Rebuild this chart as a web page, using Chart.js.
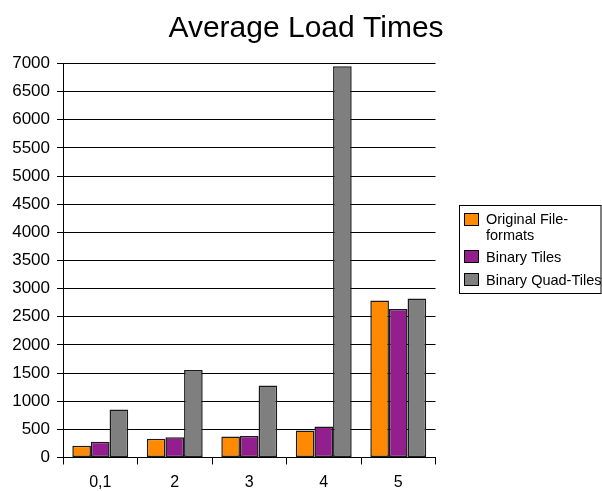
<!DOCTYPE html>
<html>
<head>
<meta charset="utf-8">
<script src="https://cdn.jsdelivr.net/npm/chart.js@4.4.1/dist/chart.umd.min.js"></script>
<style>
  html, body { margin: 0; padding: 0; background: #fff; }
  #wrap { position: relative; width: 602px; height: 491px; }
</style>
</head>
<body>
<div id="wrap"><canvas id="c" width="602" height="491"></canvas></div>
<script>
// Average load time per zoom level group
const categories = ['0,1', '2', '3', '4', '5'];
const originalFileFormats = [207, 332, 373, 479, 2790];
const binaryTiles = [279, 361, 380, 550, 2640];
const binaryQuadTiles = [852, 1555, 1277, 6950, 2825];
const seriesNames = ['Original File-formats', 'Binary Tiles', 'Binary Quad-Tiles'];
const legendLines = [['Original File-', 'formats'], ['Binary Tiles'], ['Binary Quad-Tiles']];
const yTicks = [0, 500, 1000, 1500, 2000, 2500, 3000, 3500, 4000, 4500, 5000, 5500, 6000, 6500, 7000];

const FONT = '"Liberation Sans", Arial, sans-serif';
const colors = ['#FF8A00', '#931F8F', '#7F7F7F'];

// Title and boxed legend drawn on the canvas
const decorations = {
  id: 'decorations',
  afterDraw(chart) {
    const ctx = chart.ctx;
    ctx.save();
    ctx.fillStyle = '#000';
    ctx.font = '30px ' + FONT;
    ctx.textAlign = 'center';
    ctx.textBaseline = 'alphabetic';
    ctx.fillText('Average Load Times', 306, 37);

    // legend frame
    ctx.strokeStyle = '#000';
    ctx.lineWidth = 1;
    ctx.strokeRect(459.5, 205.5, 141.5, 88);
    const rows = [
      { swatchTop: 213.5, baselines: [223.5, 239.5] },
      { swatchTop: 250.5, baselines: [261.5] },
      { swatchTop: 273.5, baselines: [284.5] }
    ];
    ctx.font = '14.5px ' + FONT;
    ctx.textAlign = 'left';
    chart.data.datasets.forEach((ds, i) => {
      const r = rows[i];
      ctx.fillStyle = ds.backgroundColor;
      ctx.fillRect(464.5, r.swatchTop, 14, 12);
      ctx.strokeRect(464.5, r.swatchTop, 14, 12);
      ctx.fillStyle = '#000';
      legendLines[i].forEach((t, k) => ctx.fillText(t, 486, r.baselines[k]));
    });
    ctx.restore();
  }
};

new Chart(document.getElementById('c'), {
  type: 'bar',
  data: {
    labels: categories,
    datasets: [
      { label: seriesNames[0], data: originalFileFormats, backgroundColor: colors[0] },
      { label: seriesNames[1], data: binaryTiles, backgroundColor: colors[1] },
      { label: seriesNames[2], data: binaryQuadTiles, backgroundColor: colors[2] }
    ].map(d => Object.assign(d, {
      borderColor: '#1a1a1a',
      borderWidth: 1.5,
      borderSkipped: false,
      categoryPercentage: 0.75,
      barPercentage: 1.0
    }))
  },
  options: {
    responsive: false,
    animation: false,
    devicePixelRatio: 1,
    layout: { padding: { top: 63.5, right: 166.5, left: 0, bottom: 0 } },
    plugins: {
      legend: { display: false },
      title: { display: false },
      tooltip: { enabled: false }
    },
    scales: {
      x: {
        grid: { offset: true, drawOnChartArea: false, drawTicks: true, tickLength: 7, color: '#000' },
        border: { display: true, color: '#000', width: 1 },
        ticks: { color: '#000', font: { family: FONT, size: 16 }, padding: 8 },
        afterFit(scale) { scale.height = 33.5; }
      },
      y: {
        min: 0,
        max: 7000,
        afterBuildTicks(scale) { scale.ticks = yTicks.map(v => ({ value: v })); },
        grid: { color: '#000', lineWidth: 1, drawTicks: true, tickLength: 6 },
        border: { display: true, color: '#000', width: 1 },
        ticks: {
          color: '#000',
          font: { family: FONT, size: 17 },
          padding: 7,
          callback: v => String(v)
        },
        afterFit(scale) { scale.width = 63; }
      }
    }
  },
  plugins: [decorations]
});
</script>
</body>
</html>
